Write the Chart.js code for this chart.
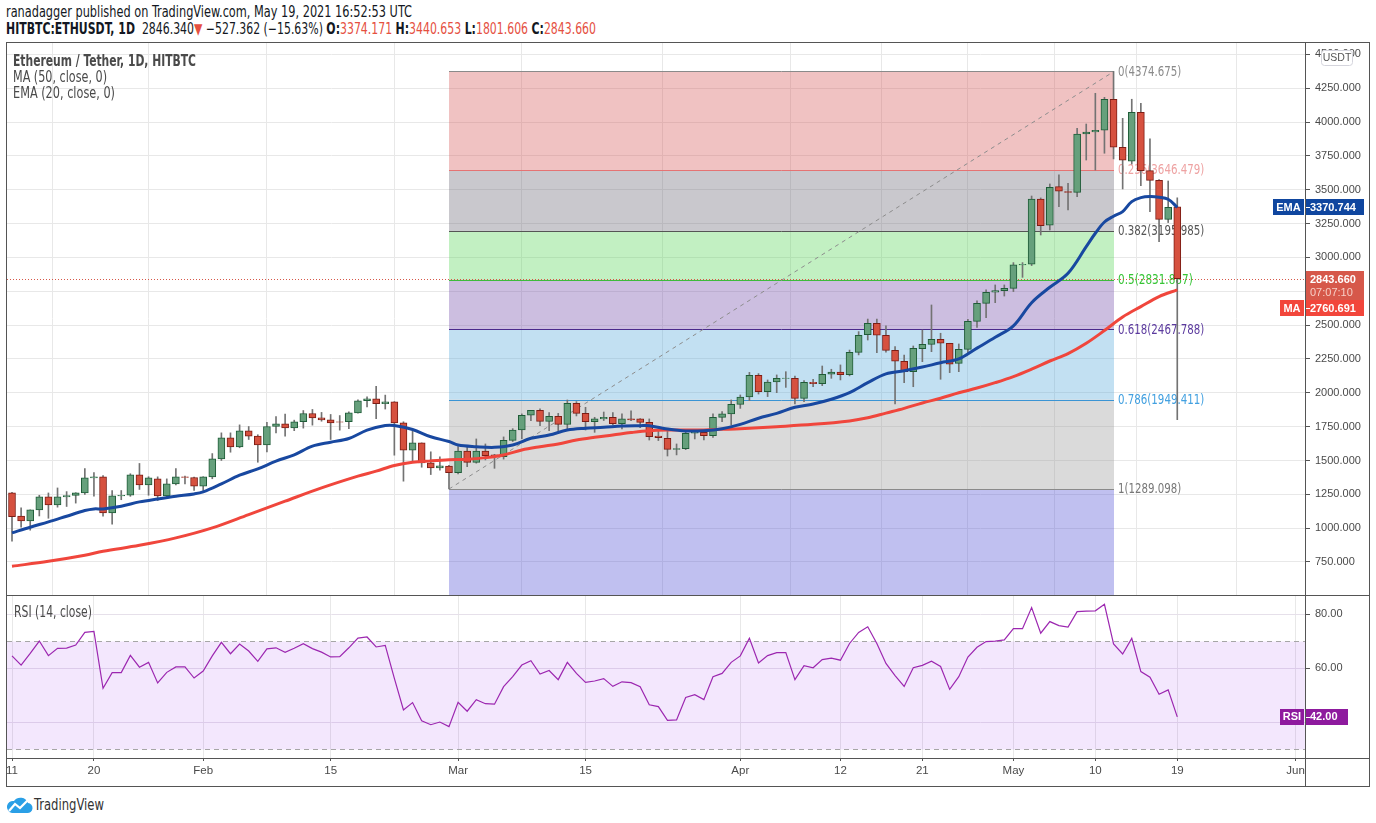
<!DOCTYPE html>
<html><head><meta charset="utf-8"><title>ETHUSDT 1D</title>
<script src="https://cdn.jsdelivr.net/npm/chart.js@4.4.1/dist/chart.umd.min.js"></script>
<style>
html,body{margin:0;padding:0;background:#fff}
body{width:1376px;height:823px;position:relative;overflow:hidden;font-family:"Liberation Sans Narrow","DejaVu Sans Condensed","Liberation Sans",Arial,sans-serif;color:#131722}
.t{position:absolute;white-space:nowrap;transform-origin:0 50%;line-height:16px;font-size:15px}
.r{color:#e5503f}
.f{position:absolute;background:#555;z-index:5}
canvas{position:absolute}
.leg{color:#4a4a4a;z-index:6}
</style></head><body>
<div id="l1" class="t" style="left:6px;top:4px" data-w="406">ranadagger published on TradingView.com, May 19, 2021 16:52:53 UTC</div>
<div id="l2" class="t" style="left:6px;top:21px" data-w="590"><b>HITBTC:ETHUSDT, 1D</b>&nbsp; 2846.340<span class="r">▼</span> −527.362 (−15.63%) <b>O:</b><span class="r">3374.171</span> <b>H:</b><span class="r">3440.653</span> <b>L:</b><span class="r">1801.606</span> <b>C:</b><span class="r">2843.660</span></div>

<canvas id="c1" width="1362" height="553" style="left:7px;top:42px"></canvas>
<canvas id="c2" width="1362" height="191" style="left:7px;top:595px"></canvas>

<div class="t leg" style="left:13px;top:53px;font-weight:bold" data-w="183">Ethereum / Tether, 1D, HITBTC</div>
<div class="t leg" style="left:13px;top:69px" data-w="94">MA (50, close, 0)</div>
<div class="t leg" style="left:13px;top:85px" data-w="102">EMA (20, close, 0)</div>
<div class="t leg" style="left:14px;top:604px" data-w="78">RSI (14, close)</div>

<div class="f" style="left:6px;top:42px;width:1364px;height:1px"></div>
<div class="f" style="left:6px;top:42px;width:1px;height:745px"></div>
<div class="f" style="left:1369px;top:42px;width:1px;height:745px"></div>
<div class="f" style="left:6px;top:786px;width:1364px;height:1px"></div>
<div class="f" style="left:1305px;top:42px;width:1px;height:745px"></div>
<div class="f" style="left:6px;top:595px;width:1364px;height:1px"></div>
<div class="f" style="left:6px;top:758px;width:1364px;height:1px"></div>

<svg style="position:absolute;left:6px;top:796px" width="27" height="18" viewBox="0 0 27 18">
<path d="M6 17 H21 A5 5 0 0 0 22 7 A8 8 0 0 0 8 5 A6 6 0 0 0 6 17 Z" fill="#2a9fe6"/>
<polyline points="3,15 9,8 14,12 22,4" stroke="#fff" stroke-width="2.2" fill="none"/>
</svg>
<div class="t" style="left:34px;top:797px;color:#333" data-w="70">TradingView</div>

<script>
// ---------- data ----------
const startDate = '2021-01-11';
const tickDays  = [0, 9, 21, 35, 49, 63, 80, 91, 100, 110, 119, 128, 141];
const tickText  = ['11', '20', 'Feb', '15', 'Mar', '15', 'Apr', '12', '21', 'May', '10', '19', 'Jun'];
const priceTicks = [750, 1000, 1250, 1500, 1750, 2000, 2250, 2500, 2750, 3000, 3250, 3500, 3750, 4000, 4250, 4500];
const rsiTicks = [40, 60, 80];

const openV = [1260,1090,1053,1135,1231,1172,1231,1241,1260,1371,
 1379,1113,1238,1243,1394,1320,1364,1238,1327,1379,
 1374,1310,1379,1512,1667,1601,1719,1680,1615,1751,
 1771,1741,1786,1847,1815,1800,1786,1786,1852,1941,
 1956,1919,1933,1778,1576,1630,1482,1445,1459,1410,
 1570,1486,1570,1541,1528,1649,1725,1834,1871,1789,
 1826,1767,1922,1848,1787,1807,1819,1772,1807,1807,
 1782,1681,1664,1582,1587,1701,1708,1684,1819,1844,
 1915,1969,2129,2009,2080,2107,2107,1959,2078,2068,
 2137,2154,2134,2299,2430,2513,2425,2314,2233,2156,
 2326,2358,2395,2366,2218,2321,2528,2661,2743,2755,
 2772,2945,2950,3432,3238,3523,3486,3481,3912,3927,
 3940,4169,3814,3711,4073,3642,3570,3282,3374.171];
const highV = [1265,1150,1135,1243,1260,1297,1270,1262,1440,1411,
 1389,1278,1278,1402,1478,1380,1379,1364,1440,1384,
 1378,1380,1551,1704,1704,1763,1751,1690,1781,1825,
 1842,1798,1869,1877,1855,1840,1832,1860,1948,1970,
 2047,1983,1935,1786,1717,1630,1564,1527,1465,1602,
 1602,1659,1622,1545,1674,1735,1844,1871,1881,1853,
 1848,1947,1935,1893,1819,1858,1853,1844,1866,1810,
 1807,1725,1738,1622,1725,1730,1730,1844,1861,1947,
 1984,2151,2142,2095,2132,2156,2124,2090,2100,2198,
 2174,2206,2316,2452,2545,2545,2494,2341,2279,2346,
 2464,2649,2440,2366,2361,2543,2679,2760,2797,2797,
 2962,2962,3454,3440,3543,3610,3548,3954,3986,4213,
 4183,4374.675,4028,4169,4139,3876,3575,3565,3440.653];
const lowV = [903,1007,985,1090,1073,1155,1160,1185,1250,1236,
 1088,1029,1210,1235,1286,1243,1204,1224,1320,1327,
 1278,1278,1365,1500,1561,1594,1655,1487,1564,1704,
 1680,1720,1739,1761,1790,1655,1724,1735,1850,1895,
 1808,1880,1539,1347,1495,1450,1396,1428,1289.098,1400,
 1454,1480,1504,1442,1510,1640,1661,1794,1757,1720,
 1720,1725,1829,1725,1708,1795,1765,1733,1795,1743,
 1651,1647,1533,1541,1580,1659,1651,1671,1787,1762,
 1885,1942,1991,1972,2001,2040,1917,1934,2045,2053,
 2107,2095,2125,2280,2390,2297,2300,1917,2075,2045,
 2230,2304,2100,2149,2156,2297,2484,2555,2666,2715,
 2748,2853,2940,3166,3203,3375,3351,3449,3720,3646,
 3770,3728,3506,3690,3530,3339,3117,3258,1801.606];
const closeV = [1085,1053,1135,1231,1172,1231,1241,1260,1371,1379,
 1113,1238,1243,1394,1320,1371,1238,1327,1379,1374,
 1310,1379,1512,1667,1601,1719,1680,1615,1751,1771,
 1741,1786,1847,1815,1800,1778,1783,1852,1941,1956,
 1919,1933,1778,1576,1630,1482,1445,1460,1410,1570,
 1486,1570,1536,1528,1649,1725,1834,1871,1789,1826,
 1767,1922,1848,1787,1807,1819,1772,1807,1799,1782,
 1676,1669,1582,1587,1701,1708,1684,1819,1844,1915,
 1969,2129,2009,2080,2107,2109,1959,2078,2068,2137,
 2154,2134,2299,2425,2513,2425,2314,2233,2156,2329,
 2358,2395,2366,2211,2321,2528,2661,2743,2755,2772,
 2945,2950,3432,3235,3518,3489,3481,3912,3927,3940,
 4169,3814,3718,4073,3642,3570,3282,3371,2843.66];

const emaDays = [0,2,4,6,8,9,10,12,14,16,18,20,21,23,25,27,29,31,33,35,37,39,41,42,44,46,48,49,51,53,55,57,59,61,63,65,67,69,70,72,74,76,78,80,82,84,86,88,90,92,94,96,98,100,102,104,106,108,110,112,114,116,118,119,120,121,122,123,124,125,126,127,128];
const emaVals = [965,1007,1046,1088,1130,1142,1142,1162,1194,1216,1236,1253,1268,1327,1391,1438,1495,1542,1606,1635,1662,1724,1758,1758,1729,1675,1640,1614,1602,1597,1614,1664,1688,1725,1738,1745,1755,1757,1757,1733,1718,1720,1735,1767,1812,1848,1893,1917,1952,2001,2075,2140,2163,2190,2222,2250,2330,2410,2495,2666,2780,2883,3080,3179,3262,3305,3339,3413,3442,3450,3445,3430,3370.744];
const maDays = [0,4,8,10,14,18,22,26,30,34,38,40,42,44,46,48,50,52,54,56,58,60,62,64,66,68,70,72,74,76,78,80,84,88,92,94,96,98,100,102,104,106,108,110,112,114,116,118,120,122,124,126,128];
const maVals = [718,755,800,829,873,928,1002,1100,1199,1297,1384,1421,1463,1487,1497,1505,1509,1521,1541,1578,1602,1622,1651,1671,1688,1706,1720,1725,1725,1725,1730,1735,1750,1767,1792,1815,1850,1885,1925,1960,2000,2035,2075,2120,2175,2235,2290,2366,2460,2560,2637,2711,2760.691];

const rsiVals = [64.6,61.2,65.5,70.1,64.7,67.4,67.5,68.6,73.3,73.7,
 52.6,58.4,58.4,64.8,60.4,62.2,54.6,58.5,60.5,60.5,
 56.4,59.0,64.6,69.6,65.4,69.0,66.4,62.6,67.2,67.6,
 65.9,67.4,69.1,67.3,66.0,64.2,64.3,67.6,71.2,71.6,
 67.9,68.5,56.3,44.6,47.3,40.6,39.1,40.1,38.4,47.4,
 44.1,48.4,46.9,46.7,53.2,56.9,61.2,62.8,57.9,59.2,
 55.8,62.2,58.1,54.8,55.3,56.2,53.3,55.0,54.7,53.2,
 46.5,45.8,40.7,40.9,49.2,50.2,48.4,56.9,58.1,62.2,
 64.6,71.1,62.0,64.7,65.8,65.8,55.8,61.0,60.2,63.2,
 63.8,63.0,69.2,73.3,75.4,69.2,61.8,57.3,53.3,60.2,
 61.1,62.6,60.7,52.2,56.9,64.2,67.8,69.9,70.1,70.5,
 74.7,74.7,82.5,73.0,77.3,75.8,75.3,81.0,81.2,81.3,
 83.7,69.0,65.3,71.1,58.8,56.7,50.4,52.0,42.0];

const fibRatio = ['0', '0.236', '0.382', '0.5', '0.618', '0.786', '1'];
const fibPrice = [4374.675, 3646.479, 3195.985, 2831.887, 2467.788, 1949.411, 1289.098];
const fibStartDay = 48, fibEndDay = 121;
const lastPrice = 2843.66, emaLast = 3370.744, maLast = 2760.691, rsiLast = 42.00;

// ---------- styles ----------
const fibZone = ['rgba(212,81,81,0.35)','rgba(101,98,112,0.35)','rgba(81,212,81,0.35)','rgba(109,69,166,0.35)','rgba(81,166,218,0.35)','rgba(149,149,149,0.35)','rgba(75,75,212,0.35)'];
const fibLine = ['#8a8a8a','#e57373','#555555','#3dbb3d','#4b2a8c','#3a94d4','#8a8a8a'];
const fibText = ['#8a8a8a','#eea2a2','#555555','#35c435','#5b3a9e','#42a0e0','#777777'];

function hasFont(f){ const c=document.createElement('canvas').getContext('2d'); c.font='40px monospace'; const a=c.measureText('abcdefghijklmWW').width; c.font='40px "'+f+'", monospace'; return c.measureText('abcdefghijklmWW').width!==a; }
const NARROW = hasFont('Liberation Sans Narrow') ? '"Liberation Sans Narrow"' : (hasFont('DejaVu Sans Condensed') ? '"DejaVu Sans Condensed"' : '"Liberation Sans"');

function fitText(ctx, s, x, y, target, color){
  const w = ctx.measureText(s).width; const sx = Math.min(1, target / w);
  ctx.save(); ctx.translate(x, y); ctx.scale(sx, 1); ctx.fillStyle = color; ctx.fillText(s, 0, 0); ctx.restore();
}
function fitHtml(){
  document.querySelectorAll('[data-w]').forEach(el => { el.style.transform=''; const w = el.getBoundingClientRect().width; const t = +el.dataset.w; if (w>0) el.style.transform = 'scaleX(' + (t / w) + ')'; });
}
fitHtml();
if (document.fonts && document.fonts.ready) document.fonts.ready.then(fitHtml);

Chart.defaults.font.family = '"Liberation Sans", Arial, sans-serif';
Chart.defaults.font.size = 11;
Chart.defaults.color = '#4a4a4a';
Chart.defaults.animation = false;

const X_MIN = -0.55, X_MAX = 142.03;
function xAxis(show){
  return {
    type: 'linear', min: X_MIN, max: X_MAX, offset: false,
    afterBuildTicks: s => { s.ticks = tickDays.map(v => ({value: v})); },
    ticks: { display: show, autoSkip: false, maxRotation: 0, padding: 3, font: {size: 11.5}, color: '#4a4a4a',
             callback: v => tickText[tickDays.indexOf(v)] },
    grid: { color: '#e8e8e8', drawTicks: show, tickLength: 3, tickColor: '#555' },
    border: { display: false },
    afterFit: s => { s.paddingLeft = 0; s.paddingRight = 0; s.height = show ? 28 : 0; }
  };
}
function roundRect(ctx, x, y, w, h, r){ ctx.beginPath(); ctx.moveTo(x+r,y); ctx.lineTo(x+w-r,y); ctx.quadraticCurveTo(x+w,y,x+w,y+r); ctx.lineTo(x+w,y+h-r); ctx.quadraticCurveTo(x+w,y+h,x+w-r,y+h); ctx.lineTo(x+r,y+h); ctx.quadraticCurveTo(x,y+h,x,y+h-r); ctx.lineTo(x,y+r); ctx.quadraticCurveTo(x,y,x+r,y); ctx.closePath(); }
function tag(ctx, x, yc, w, h, bg, text, color, font){
  ctx.fillStyle = bg; ctx.fillRect(x, Math.round(yc - h/2), w, h);
  if (text){ ctx.fillStyle = color; ctx.font = font; ctx.textBaseline = 'middle'; ctx.textAlign = 'left'; ctx.fillText(text, x + 4, yc + 0.5); }
}

const isUp = openV.map((o, i) => closeV[i] >= o);

const pricePlugin = {
  id: 'pricePlugin',
  beforeDatasetsDraw(chart){
    const {ctx, chartArea: a, scales: {x, y}} = chart;
    const x0 = Math.round(x.getPixelForValue(fibStartDay)), x1 = Math.round(x.getPixelForValue(fibEndDay));
    ctx.save();
    ctx.beginPath(); ctx.rect(a.left, a.top, a.width, a.height); ctx.clip();
    for (let i = 0; i < fibPrice.length; i++){
      const yt = y.getPixelForValue(fibPrice[i]);
      const yb = i < fibPrice.length - 1 ? y.getPixelForValue(fibPrice[i+1]) : a.bottom;
      ctx.fillStyle = fibZone[i]; ctx.fillRect(x0, yt, x1 - x0, yb - yt);
    }
    ctx.lineWidth = 1;
    fibPrice.forEach((p, i) => { const yy = Math.round(y.getPixelForValue(p)) + 0.5; ctx.strokeStyle = fibLine[i]; ctx.beginPath(); ctx.moveTo(x0, yy); ctx.lineTo(x1, yy); ctx.stroke(); });
    ctx.setLineDash([4, 4]); ctx.strokeStyle = '#8c8c8c';
    ctx.beginPath(); ctx.moveTo(x0, y.getPixelForValue(fibPrice[fibPrice.length-1])); ctx.lineTo(x1, y.getPixelForValue(fibPrice[0])); ctx.stroke();
    ctx.setLineDash([]);
    ctx.font = '14px ' + NARROW + ', "Liberation Sans", sans-serif'; ctx.textBaseline = 'middle'; ctx.textAlign = 'left';
    fibPrice.forEach((p, i) => { const s = fibRatio[i] + '(' + p.toFixed(3) + ')'; fitText(ctx, s, x1 + 4, y.getPixelForValue(p) + 0.5, s.length * 5.75, fibText[i]); });
    const yp = Math.round(y.getPixelForValue(lastPrice)) + 0.5;
    ctx.setLineDash([1, 2]); ctx.strokeStyle = '#d6584a';
    ctx.beginPath(); ctx.moveTo(a.left, yp); ctx.lineTo(a.right, yp); ctx.stroke();
    ctx.restore();
  },
  afterDraw(chart){
    const {ctx, chartArea: a, scales: {y}} = chart;
    const R = a.right;
    ctx.save();
    // USDT unit box
    roundRect(ctx, R + 16.5, 8.5, 31, 15, 3); ctx.fillStyle = '#fff'; ctx.fill(); ctx.strokeStyle = '#d4d4dc'; ctx.lineWidth = 1; ctx.stroke();
    ctx.fillStyle = '#555'; ctx.font = '10.5px "Liberation Sans", sans-serif'; ctx.textAlign = 'center'; ctx.textBaseline = 'middle'; ctx.fillText('USDT', R + 32, 16.5);
    const bold = 'bold 11px "Liberation Sans", sans-serif';
    // EMA
    const ye = y.getPixelForValue(emaLast);
    tag(ctx, R - 32, ye, 31, 16, '#0f469f', '', '', bold);
    ctx.fillStyle = '#fff'; ctx.font = bold; ctx.textAlign = 'center'; ctx.textBaseline = 'middle'; ctx.fillText('EMA', R - 16.5, ye + 0.5);
    tag(ctx, R + 1, ye, 58, 16, '#0f469f', emaLast.toFixed(3), '#fff', bold);
    // last price
    const yp = y.getPixelForValue(lastPrice);
    const pTop = Math.round(yp - 8);
    ctx.fillStyle = '#d6584a'; ctx.fillRect(R + 1, pTop, 58, 29);
    ctx.fillStyle = '#fff'; ctx.font = bold; ctx.textAlign = 'left'; ctx.textBaseline = 'middle'; ctx.fillText(lastPrice.toFixed(3), R + 5, pTop + 9);
    ctx.fillStyle = '#f7cfc6'; ctx.font = '11px "Liberation Sans", sans-serif'; ctx.fillText('07:07:10', R + 5, pTop + 22);
    // MA
    const ym = Math.max(y.getPixelForValue(maLast), pTop + 29 + 8);
    tag(ctx, R - 25, ym, 24, 16, '#f2463b', '', '', bold);
    ctx.fillStyle = '#fff'; ctx.font = bold; ctx.textAlign = 'center'; ctx.fillText('MA', R - 13, ym + 0.5);
    tag(ctx, R + 1, ym, 58, 16, '#f2463b', maLast.toFixed(3), '#fff', bold);
    ctx.strokeStyle = '#fff'; ctx.lineWidth = 1;
    [ye, ym].forEach(v => { ctx.beginPath(); ctx.moveTo(R + 1, Math.round(v) + 0.5); ctx.lineTo(R + 5, Math.round(v) + 0.5); ctx.stroke(); });
    ctx.restore();
  }
};

new Chart(document.getElementById('c1'), {
  type: 'bar',
  data: {
    datasets: [
      { type: 'line', label: 'EMA (20, close, 0)', data: emaDays.map((d, i) => ({x: d, y: emaVals[i]})), borderColor: '#1848a0', borderWidth: 3, pointRadius: 0, tension: 0.35, order: 0 },
      { type: 'line', label: 'MA (50, close, 0)', data: maDays.map((d, i) => ({x: d, y: maVals[i]})), borderColor: '#f0463c', borderWidth: 3, pointRadius: 0, tension: 0.35, order: 0 },
      { type: 'bar', label: 'body', data: openV.map((o, i) => ({x: i, y: [o, closeV[i]]})),
        backgroundColor: isUp.map(u => u ? '#66a07c' : '#d6513f'), borderColor: isUp.map(u => u ? '#1f5c38' : '#7d1d15'),
        borderWidth: 1, borderSkipped: false, barThickness: 7, grouped: false, order: 1 },
      { type: 'bar', label: 'wick', data: lowV.map((l, i) => ({x: i, y: [l, highV[i]]})),
        backgroundColor: '#737373', barThickness: 1, grouped: false, order: 2 }
    ]
  },
  options: {
    responsive: false, devicePixelRatio: 1, animation: false,
    layout: { padding: 0 },
    plugins: { legend: { display: false }, tooltip: { enabled: false } },
    scales: {
      x: xAxis(false),
      y: {
        position: 'right', min: 506, max: 4592,
        afterBuildTicks: s => { s.ticks = priceTicks.map(v => ({value: v})); },
        ticks: { padding: 5, color: '#4a4a4a', font: {size: 11}, callback: v => Number(v).toFixed(3) },
        grid: { color: '#e8e8e8', drawTicks: true, tickLength: 5, tickColor: '#555' },
        border: { display: true, color: '#555' },
        afterFit: s => { s.width = 64; s.paddingTop = 0; s.paddingBottom = 0; }
      }
    }
  },
  plugins: [pricePlugin]
});

const rsiPlugin = {
  id: 'rsiPlugin',
  beforeDatasetsDraw(chart){
    const {ctx, chartArea: a, scales: {y}} = chart;
    const y70 = Math.round(y.getPixelForValue(70)) + 0.5, y30 = Math.round(y.getPixelForValue(30)) + 0.5;
    ctx.save();
    ctx.fillStyle = 'rgba(150,40,240,0.11)'; ctx.fillRect(a.left, y70, a.width, y30 - y70);
    ctx.setLineDash([5, 4]); ctx.strokeStyle = '#a6a6a6'; ctx.lineWidth = 1;
    [y70, y30].forEach(v => { ctx.beginPath(); ctx.moveTo(a.left, v); ctx.lineTo(a.right, v); ctx.stroke(); });
    ctx.restore();
  },
  afterDraw(chart){
    const {ctx, chartArea: a, scales: {y}} = chart;
    const R = a.right, yr = y.getPixelForValue(rsiLast);
    const bold = 'bold 11px "Liberation Sans", sans-serif';
    ctx.save();
    tag(ctx, R - 25, yr, 24, 16, '#8e1a9e', '', '', bold);
    ctx.fillStyle = '#fff'; ctx.font = bold; ctx.textAlign = 'center'; ctx.textBaseline = 'middle'; ctx.fillText('RSI', R - 13, yr + 0.5);
    tag(ctx, R + 1, yr, 42, 16, '#8e1a9e', rsiLast.toFixed(2), '#fff', bold);
    ctx.strokeStyle = '#fff'; ctx.beginPath(); ctx.moveTo(R + 1, Math.round(yr) + 0.5); ctx.lineTo(R + 5, Math.round(yr) + 0.5); ctx.stroke();
    ctx.restore();
  }
};

new Chart(document.getElementById('c2'), {
  type: 'line',
  data: { datasets: [ { label: 'RSI (14, close)', data: rsiVals.map((v, i) => ({x: i, y: v})), borderColor: '#9c27b0', borderWidth: 1.2, pointRadius: 0, tension: 0 } ] },
  options: {
    responsive: false, devicePixelRatio: 1, animation: false,
    layout: { padding: 0 },
    plugins: { legend: { display: false }, tooltip: { enabled: false } },
    scales: {
      x: xAxis(true),
      y: {
        position: 'right', min: 26.78, max: 87.15,
        afterBuildTicks: s => { s.ticks = rsiTicks.map(v => ({value: v})); },
        ticks: { padding: 5, color: '#4a4a4a', font: {size: 11}, callback: v => Number(v).toFixed(2) },
        grid: { color: '#e6e0ea', drawTicks: true, tickLength: 5, tickColor: '#555' },
        border: { display: true, color: '#555' },
        afterFit: s => { s.width = 64; s.paddingTop = 0; s.paddingBottom = 0; }
      }
    }
  },
  plugins: [rsiPlugin]
});
</script>
</body></html>
